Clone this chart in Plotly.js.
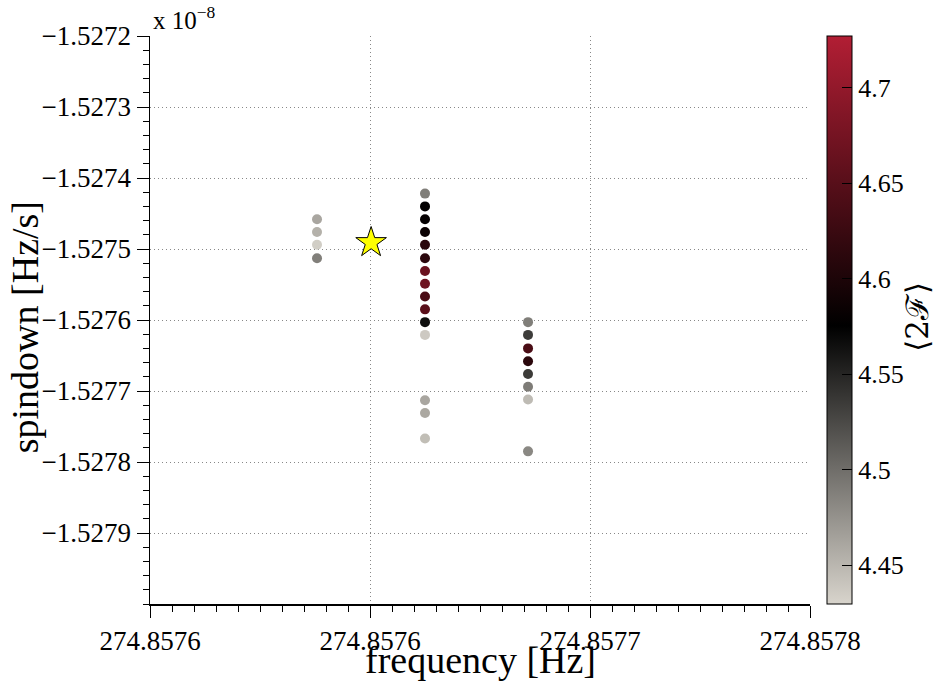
<!DOCTYPE html>
<html>
<head>
<meta charset="utf-8">
<script src="https://cdn.plot.ly/plotly-3.0.1.min.js"></script>
<style>html,body{margin:0;padding:0;background:#fff;}#chart{width:937px;height:684px;}</style>
</head>
<body>
<div id="chart"></div>
<script>
// frequency [Hz] of each grid point
const freq = [
  274.85762055, 274.85762055, 274.85762055, 274.85762055,
  274.85765, 274.85765, 274.85765, 274.85765, 274.85765, 274.85765, 274.85765, 274.85765,
  274.85765, 274.85765, 274.85765, 274.85765, 274.85765, 274.85765, 274.85765,
  274.8576781, 274.8576781, 274.8576781, 274.8576781, 274.8576781, 274.8576781, 274.8576781, 274.8576781
];
// spindown in units of 1e-8 Hz/s
const spindown = [
  -1.527458, -1.527476, -1.527494, -1.527513,
  -1.527422, -1.527440, -1.527458, -1.527476, -1.527494, -1.527513, -1.527531, -1.527549,
  -1.527567, -1.527585, -1.527603, -1.527621, -1.527713, -1.527731, -1.527767,
  -1.527603, -1.527621, -1.527640, -1.527658, -1.527676, -1.527694, -1.527712, -1.527785
];
// mean 2F of each point
const twoF = [
  4.461, 4.454, 4.434, 4.488,
  4.489, 4.577, 4.580, 4.585, 4.611, 4.612, 4.666, 4.669,
  4.638, 4.652, 4.565, 4.437, 4.461, 4.460, 4.445,
  4.489, 4.534, 4.638, 4.611, 4.535, 4.490, 4.447, 4.482
];
// injected signal (star)
const injFreq = [274.8576353];
const injSpindown = [-1.527491];

const xTickVals = [274.857575, 274.857635, 274.857695, 274.857755];
const xTickText = ['274.8576', '274.8576', '274.8577', '274.8578'];
const yTickVals = [-1.5272, -1.5273, -1.5274, -1.5275, -1.5276, -1.5277, -1.5278, -1.5279];
const yTickText = ['\u22121.5272', '\u22121.5273', '\u22121.5274', '\u22121.5275', '\u22121.5276', '\u22121.5277', '\u22121.5278', '\u22121.5279'];
const cTickVals = [4.45, 4.5, 4.55, 4.6, 4.65, 4.7];
const cTickText = ['4.45', '4.5', '4.55', '4.6', '4.65', '4.7'];

const FONT = 'Liberation Serif, serif';

const traces = [
  {
    type: 'scatter', mode: 'markers', x: freq, y: spindown,
    marker: {
      size: 10, color: twoF, cmin: 4.4296, cmax: 4.727,
      colorscale: [[0, 'rgb(216,212,204)'], [0.49, 'rgb(0,0,0)'], [1, 'rgb(178,30,52)']],
      line: {width: 0},
      colorbar: {
        x: 1.0258, xanchor: 'left', xpad: 0, y: 0.5, yanchor: 'middle', ypad: 0,
        len: 1, lenmode: 'fraction', thickness: 25,
        outlinewidth: 1, outlinecolor: '#000',
        tickmode: 'array', tickvals: cTickVals, ticktext: cTickText,
        ticks: 'inside', ticklen: 10, tickwidth: 1, tickcolor: '#000',
        tickfont: {family: FONT, size: 26, color: '#000'}
      }
    },
    showlegend: false, hoverinfo: 'x+y+text', text: twoF.map(String)
  },
  {
    type: 'scatter', mode: 'markers', x: injFreq, y: injSpindown,
    marker: {symbol: 'star', size: 23, color: '#ffff00', line: {color: '#000', width: 1}},
    showlegend: false
  }
];

const GRID = {gridcolor: '#888', griddash: '1px,3px', gridwidth: 1, showgrid: true};

const layout = {
  width: 937, height: 684,
  margin: {l: 150, r: 127, t: 36, b: 80, pad: 0, autoexpand: false},
  paper_bgcolor: '#fff', plot_bgcolor: '#fff',
  font: {family: FONT, size: 26, color: '#000'},
  xaxis: Object.assign({
    range: [274.857575, 274.857755],
    tickmode: 'array', tickvals: xTickVals, ticktext: xTickText,
    ticks: 'outside', ticklen: 12, tickwidth: 1, tickcolor: '#000',
    minor: {tick0: 274.857575, dtick: 0.000006, ticks: 'outside', ticklen: 6, tickwidth: 1, tickcolor: '#000', showgrid: false},
    showline: true, linecolor: '#000', linewidth: 1.5, mirror: false,
    zeroline: false, automargin: false,
    tickfont: {family: FONT, size: 27}
  }, GRID),
  yaxis: Object.assign({
    range: [-1.5280, -1.5272],
    tickmode: 'array', tickvals: yTickVals, ticktext: yTickText,
    ticks: 'outside', ticklen: 12, tickwidth: 1, tickcolor: '#000',
    minor: {tick0: -1.5280, dtick: 0.00002, ticks: 'outside', ticklen: 6, tickwidth: 1, tickcolor: '#000', showgrid: false},
    showline: true, linecolor: '#000', linewidth: 1.5, mirror: false,
    zeroline: false, automargin: false,
    tickfont: {family: FONT, size: 27}
  }, GRID),
  annotations: [
    {xref: 'paper', yref: 'paper', x: 0.5, y: -0.099, xanchor: 'center', yanchor: 'middle',
     text: 'frequency [Hz]', showarrow: false, font: {family: FONT, size: 38}},
    {xref: 'paper', yref: 'paper', x: -0.189, y: 0.4877, xanchor: 'center', yanchor: 'middle',
     text: 'spindown [Hz/s]', textangle: -90, showarrow: false, font: {family: FONT, size: 38}},
    {xref: 'paper', yref: 'paper', x: 0.002, y: 1.0, xanchor: 'left', yanchor: 'bottom',
     text: 'x 10<sup>\u22128</sup>', showarrow: false, font: {family: FONT, size: 25}},
    {xref: 'paper', yref: 'paper', x: 1.163, y: 0.505, xanchor: 'center', yanchor: 'middle',
     text: '\u27E82\u2131\u27E9', textangle: -90, showarrow: false, font: {family: 'DejaVu Serif, serif', size: 31}}
  ]
};

Plotly.newPlot('chart', traces, layout, {displayModeBar: false, staticPlot: true});
</script>
</body>
</html>
